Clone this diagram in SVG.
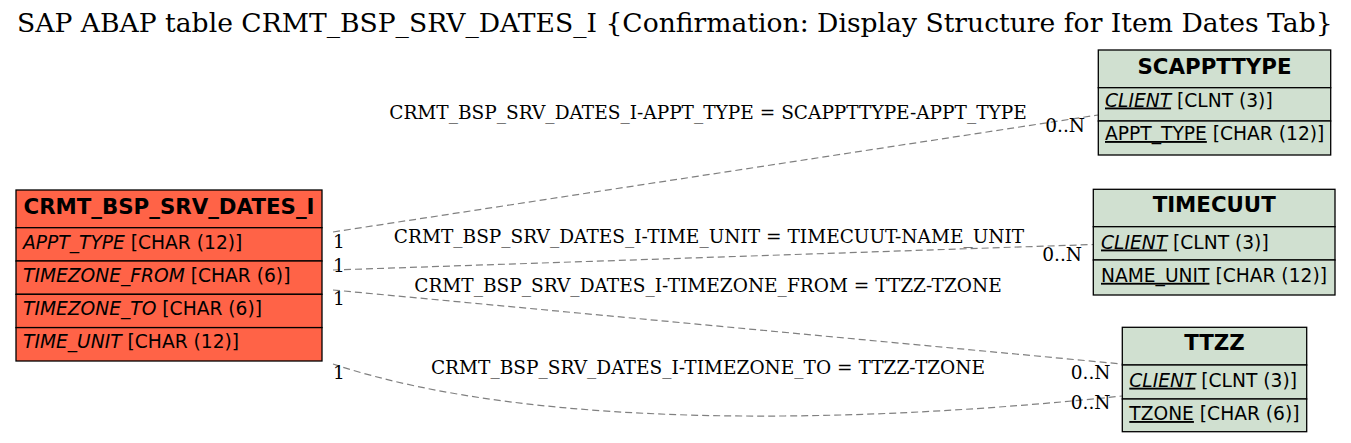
<svg xmlns="http://www.w3.org/2000/svg" width="1351" height="443" viewBox="0 0 1351 443">
<style>
.title{font-family:"DejaVu Serif",serif;font-size:26.6px;fill:#000}
.el{font-family:"DejaVu Serif",serif;font-size:18.55px;fill:#000}
.hd{font-family:"DejaVu Sans",sans-serif;font-size:21.33px;font-weight:bold;fill:#000;text-anchor:middle}
.rw{font-family:"DejaVu Sans",sans-serif;font-size:18.67px;fill:#000}
.it{font-style:italic}
.ul{text-decoration:underline}
.main{fill:#ff6347;stroke:#000;stroke-width:1.3}
.ref{fill:#d0e0d0;stroke:#000;stroke-width:1.3}
.edge{fill:none;stroke:#808080;stroke-width:1.2;stroke-dasharray:7,4}
</style>
<rect width="1351" height="443" fill="#fff"/>
<text class="title" x="17" y="31.5">SAP ABAP table CRMT_BSP_SRV_DATES_I {Confirmation: Display Structure for Item Dates Tab}</text>
<g id="connectors">
<path class="edge" d="M333,232 L1098,115"/>
<path class="edge" d="M333,270 L1093,244.5"/>
<path class="edge" d="M333,290 L1122,364"/>
<path class="edge" d="M333,364 C541,433 877,422 1122,396"/>
<text class="el" x="708" y="119" text-anchor="middle">CRMT_BSP_SRV_DATES_I-APPT_TYPE = SCAPPTTYPE-APPT_TYPE</text>
<text class="el" x="709" y="243" text-anchor="middle">CRMT_BSP_SRV_DATES_I-TIME_UNIT = TIMECUUT-NAME_UNIT</text>
<text class="el" x="708" y="291.5" text-anchor="middle">CRMT_BSP_SRV_DATES_I-TIMEZONE_FROM = TTZZ-TZONE</text>
<text class="el" x="708" y="374" text-anchor="middle">CRMT_BSP_SRV_DATES_I-TIMEZONE_TO = TTZZ-TZONE</text>
<text class="el" x="333" y="248">1</text>
<text class="el" x="333" y="271.5">1</text>
<text class="el" x="333" y="305">1</text>
<text class="el" x="333" y="379">1</text>
<text class="el" x="1085" y="131.5" text-anchor="end">0..N</text>
<text class="el" x="1082" y="260.5" text-anchor="end">0..N</text>
<text class="el" x="1110.5" y="379" text-anchor="end">0..N</text>
<text class="el" x="1110.5" y="409" text-anchor="end">0..N</text>
</g>
<g id="CRMT_BSP_SRV_DATES_I">
<rect class="main" x="16" y="190" width="306" height="37.7"/>
<rect class="main" x="16" y="227.7" width="306" height="33.3"/>
<rect class="main" x="16" y="261" width="306" height="33.3"/>
<rect class="main" x="16" y="294.3" width="306" height="33.3"/>
<rect class="main" x="16" y="327.6" width="306" height="33.4"/>
<text class="hd" x="169" y="213.5">CRMT_BSP_SRV_DATES_I</text>
<text class="rw" x="23" y="248.5"><tspan class="it">APPT_TYPE</tspan> [CHAR (12)]</text>
<text class="rw" x="23" y="281.8"><tspan class="it">TIMEZONE_FROM</tspan> [CHAR (6)]</text>
<text class="rw" x="23" y="315.1"><tspan class="it">TIMEZONE_TO</tspan> [CHAR (6)]</text>
<text class="rw" x="23" y="348.4"><tspan class="it">TIME_UNIT</tspan> [CHAR (12)]</text>
</g>
<g id="SCAPPTTYPE">
<rect class="ref" x="1098.3" y="50" width="232.4" height="37.7"/>
<rect class="ref" x="1098.3" y="87.7" width="232.4" height="33.3"/>
<rect class="ref" x="1098.3" y="121" width="232.4" height="34"/>
<text class="hd" x="1214.5" y="73.5">SCAPPTTYPE</text>
<text class="rw" x="1105" y="106.5"><tspan class="it ul">CLIENT</tspan> [CLNT (3)]</text>
<text class="rw" x="1105" y="140"><tspan class="ul">APPT_TYPE</tspan> [CHAR (12)]</text>
</g>
<g id="TIMECUUT">
<rect class="ref" x="1093.3" y="189.3" width="241.7" height="37.4"/>
<rect class="ref" x="1093.3" y="226.7" width="241.7" height="33.3"/>
<rect class="ref" x="1093.3" y="260" width="241.7" height="35"/>
<text class="hd" x="1214.2" y="212">TIMECUUT</text>
<text class="rw" x="1101" y="248.5"><tspan class="it ul">CLIENT</tspan> [CLNT (3)]</text>
<text class="rw" x="1101" y="281.8"><tspan class="ul">NAME_UNIT</tspan> [CHAR (12)]</text>
</g>
<g id="TTZZ">
<rect class="ref" x="1122.3" y="327.3" width="184.4" height="37.7"/>
<rect class="ref" x="1122.3" y="365" width="184.4" height="34"/>
<rect class="ref" x="1122.3" y="399" width="184.4" height="32.7"/>
<text class="hd" x="1214.5" y="350">TTZZ</text>
<text class="rw" x="1129.3" y="386.7"><tspan class="it ul">CLIENT</tspan> [CLNT (3)]</text>
<text class="rw" x="1129.3" y="420"><tspan class="ul">TZONE</tspan> [CHAR (6)]</text>
</g>
</svg>
